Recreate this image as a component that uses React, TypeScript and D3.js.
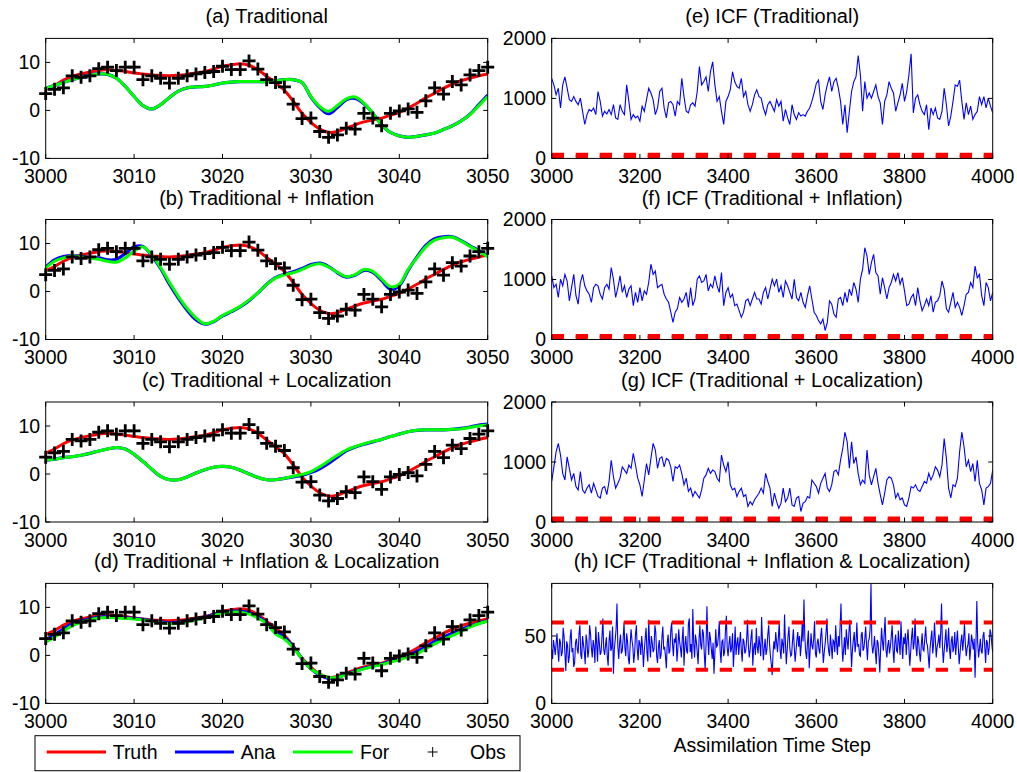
import React from 'react'
import * as d3 from 'd3'

const W = 1017
const H = 772
const FONT = '"Liberation Sans", Arial, Helvetica, sans-serif'

// ---- left column: one state variable, steps 3000..3050
const leftSteps = d3.range(3000, 3051)
const obs = [3.5, 4.4, 4.7, 7.2, 6.9, 7.2, 8.7, 9.0, 8.3, 9.0,
  9.0, 6.4, 7.2, 6.7, 5.7, 6.7, 7.2, 7.6, 7.9, 8.1,
  9.2, 8.5, 8.5, 10.3, 8.6, 6.4, 5.8, 4.9, 1.3, -1.7,
  -1.6, -4.4, -5.6, -5.1, -3.7, -3.9, -0.6, -1.6, -3.2, -0.6,
  -0.1, 0.3, -0.4, 2.0, 4.7, 3.4, 6.0, 5.3, 7.4, 8.3, 9.0]
const truth = [4.3, 5.2, 6.3, 7.1, 7.6, 8.0, 8.3, 8.5, 8.3, 8.1,
  7.8, 7.6, 7.4, 7.3, 7.2, 7.3, 7.5, 7.8, 8.1, 8.6,
  9.2, 9.5, 9.7, 9.4, 8.5, 7.1, 5.7, 4.2, 1.9, -0.6,
  -2.5, -3.9, -4.6, -4.4, -3.7, -3.0, -2.4, -2.0, -1.6, -1.0,
  -0.4, 0.5, 1.5, 2.6, 3.6, 4.6, 5.5, 6.2, 6.7, 7.2, 7.6]

const forA = [4.6, 5.2, 5.8, 6.4, 6.9, 7.3, 7.6, 7.5, 6.7, 5.0,
  2.9, 1.0, 0.3, 1.2, 2.7, 4.0, 4.7, 4.9, 5.0, 5.3,
  5.7, 5.9, 6.0, 6.0, 6.0, 6.0, 6.2, 6.4, 6.4, 5.8,
  2.9, 0.8, -0.2, 1.0, 2.4, 2.8, 1.5, -0.6, -3.0, -4.6,
  -5.3, -5.6, -5.4, -5.1, -4.7, -4.0, -3.2, -2.2, -0.9, 1.0, 2.9]
const anaA = [4.6, 5.2, 5.8, 6.4, 6.9, 7.3, 7.6, 7.5, 6.7, 5.0,
  2.9, 1.0, 0.3, 1.2, 2.7, 4.0, 4.7, 4.9, 5.0, 5.3,
  5.7, 5.9, 6.0, 6.0, 6.0, 6.0, 6.2, 6.4, 6.4, 5.8,
  2.8, 0.6, -0.7, 0.6, 2.2, 2.5, 1.4, -0.6, -3.0, -4.6,
  -5.3, -5.6, -5.4, -5.1, -4.7, -4.0, -3.2, -2.2, -0.8, 1.2, 3.2]

const forB = [4.9, 6.3, 7.0, 7.4, 7.2, 7.0, 6.7, 6.3, 6.1, 7.0,
  8.4, 9.3, 7.6, 5.0, 1.9, -1.0, -3.5, -5.5, -6.7, -6.2,
  -5.0, -4.1, -3.1, -1.8, -0.3, 1.5, 2.8, 3.5, 3.9, 4.6,
  5.4, 5.8, 5.1, 4.0, 3.1, 3.5, 4.6, 4.2, 2.6, 1.0,
  1.5, 4.6, 7.0, 9.3, 10.7, 11.2, 11.3, 10.5, 9.4, 8.4, 7.2]
const anaB = [5.1, 6.6, 7.3, 7.5, 7.3, 7.1, 7.0, 6.6, 6.7, 7.9,
  9.3, 9.4, 7.4, 4.8, 1.5, -1.4, -3.9, -5.9, -6.8, -6.3,
  -5.1, -4.2, -3.2, -1.9, -0.3, 1.5, 2.9, 3.6, 4.1, 4.8,
  5.6, 5.9, 5.2, 3.9, 3.0, 3.4, 4.4, 4.0, 2.3, 0.5,
  1.2, 4.4, 7.2, 9.6, 11.0, 11.4, 11.4, 10.6, 9.5, 8.5, 7.3]

const forC = [2.9, 3.1, 3.4, 3.6, 3.9, 4.3, 4.8, 5.2, 5.5, 5.2,
  4.1, 2.6, 1.0, -0.5, -1.2, -1.2, -0.6, 0.2, 0.9, 1.4,
  1.6, 1.4, 0.8, 0.0, -0.7, -1.2, -1.2, -0.9, -0.5, -0.1,
  0.5, 1.5, 2.7, 3.9, 5.0, 5.7, 6.3, 6.8, 7.2, 7.8,
  8.3, 8.8, 9.1, 9.2, 9.2, 9.2, 9.3, 9.4, 9.7, 10.0, 10.2]
const anaC = [2.9, 3.1, 3.4, 3.6, 3.9, 4.3, 4.8, 5.2, 5.5, 5.2,
  4.1, 2.6, 1.0, -0.5, -1.2, -1.2, -0.6, 0.2, 0.9, 1.4,
  1.6, 1.4, 0.8, 0.0, -0.7, -1.2, -1.2, -0.9, -0.6, -0.3,
  0.3, 1.1, 2.2, 3.5, 4.8, 5.6, 6.2, 6.7, 7.2, 7.8,
  8.3, 8.8, 9.1, 9.2, 9.2, 9.2, 9.3, 9.5, 9.8, 10.2, 10.4]

const forD = [2.8, 3.8, 5.0, 6.2, 6.9, 7.4, 7.8, 7.9, 7.8, 7.7,
  7.6, 7.4, 7.1, 6.8, 6.6, 6.7, 7.0, 7.4, 7.8, 8.3,
  8.8, 9.0, 9.0, 8.6, 7.8, 6.6, 4.5, 3.4, 1.6, -0.7,
  -2.8, -3.9, -4.6, -4.6, -4.0, -3.4, -2.8, -2.3, -1.9, -1.4,
  -0.9, -0.3, 0.3, 1.4, 2.4, 3.3, 4.1, 5.0, 5.9, 6.6, 7.1]
const anaD = [3.3, 4.3, 5.5, 6.6, 7.2, 7.6, 8.0, 8.1, 8.0, 7.8,
  7.7, 7.5, 7.2, 7.0, 6.8, 6.9, 7.2, 7.6, 8.0, 8.5,
  9.0, 9.2, 9.2, 8.9, 8.1, 6.8, 5.0, 3.8, 1.8, -0.7,
  -2.8, -4.1, -4.8, -4.6, -3.9, -3.3, -2.7, -2.2, -1.8, -1.2,
  -0.7, 0.0, 0.8, 1.8, 2.9, 3.8, 4.6, 5.4, 6.1, 6.7, 7.2]

const leftTitles = ['(a) Traditional', '(b) Traditional + Inflation',
  '(c) Traditional + Localization', '(d) Traditional + Inflation & Localization']
const leftXTicks = [3000, 3010, 3020, 3030, 3040, 3050]
const leftYTicks = [-10, 0, 10]

// ---- right column: ICF, steps 3000..4000
const icfSteps = d3.range(3000, 4001, 5)
const icfE = [1335, 1225, 1060, 1170, 840, 1225, 1360, 1170, 980, 950, 1030, 950, 895, 1005, 785, 565, 730, 815, 785, 840,
  730, 1115, 950, 705, 785, 740, 815, 730, 895, 675, 650, 895, 785, 730, 1225, 950, 650, 730, 675, 705,
  620, 870, 785, 980, 1170, 1090, 980, 730, 840, 1115, 1170, 840, 675, 925, 950, 895, 705, 950, 895, 1335,
  1030, 785, 760, 895, 925, 870, 1115, 1530, 1225, 1280, 1360, 1115, 1445, 1610, 1225, 950, 1030, 785, 565, 950,
  1030, 1145, 1445, 1280, 1200, 1170, 1335, 1030, 1115, 895, 785, 895, 1060, 1145, 1030, 1005, 840, 730, 895, 950,
  870, 785, 980, 870, 950, 620, 815, 675, 565, 895, 730, 650, 760, 705, 730, 705, 785, 840, 950, 1090,
  1250, 1305, 950, 815, 1060, 1225, 1360, 1115, 1280, 1335, 1170, 950, 565, 895, 430, 785, 1115, 1280, 1360, 1715,
  1390, 785, 1280, 1005, 1090, 1005, 1115, 1225, 1030, 925, 565, 950, 1060, 1280, 1170, 1090, 785, 925, 1060, 1250,
  950, 1115, 1390, 1745, 760, 1005, 1060, 895, 785, 730, 895, 480, 840, 730, 840, 675, 650, 785, 1170, 895,
  540, 705, 950, 1225, 1200, 1305, 950, 650, 925, 730, 870, 650, 730, 785, 1030, 895, 1030, 840, 1005, 870,
  760]
const icfF = [1060, 865, 920, 700, 1005, 895, 1085, 975, 645, 865, 1085, 730, 590, 950, 1085, 895, 810, 755, 620, 865,
  920, 895, 755, 675, 865, 920, 840, 1200, 1005, 700, 865, 1060, 785, 895, 700, 840, 895, 565, 785, 620,
  865, 645, 810, 755, 950, 1255, 1085, 1140, 865, 895, 920, 755, 675, 620, 455, 285, 455, 510, 700, 620,
  675, 785, 535, 865, 565, 675, 1005, 1060, 950, 975, 1085, 810, 920, 865, 1060, 895, 785, 1115, 565, 785,
  865, 700, 755, 565, 590, 480, 370, 455, 645, 675, 565, 675, 785, 675, 675, 590, 785, 865, 675, 840,
  1005, 895, 1005, 785, 895, 700, 975, 895, 785, 675, 1005, 700, 645, 785, 620, 535, 730, 895, 675, 455,
  400, 315, 260, 340, 150, 285, 645, 590, 425, 370, 675, 700, 565, 785, 620, 840, 730, 950, 840, 620,
  1005, 1170, 1530, 1390, 1085, 1280, 1420, 1115, 1060, 755, 1030, 865, 675, 865, 950, 1085, 975, 1115, 920, 1030,
  810, 565, 590, 700, 755, 565, 865, 645, 480, 565, 675, 565, 730, 455, 620, 645, 730, 975, 840, 510,
  455, 620, 785, 535, 620, 535, 400, 565, 755, 785, 950, 865, 1225, 1030, 1085, 730, 565, 950, 865, 645,
  785]
const icfG = [675, 920, 1170, 1310, 1115, 810, 700, 1085, 895, 700, 810, 590, 535, 840, 535, 480, 565, 620, 480, 645,
  535, 425, 400, 565, 590, 455, 675, 1030, 755, 565, 645, 730, 920, 865, 810, 950, 895, 1145, 950, 730,
  620, 425, 700, 975, 785, 1060, 1310, 1200, 895, 1060, 1085, 920, 1060, 1030, 920, 675, 920, 895, 950, 810,
  620, 730, 510, 565, 425, 510, 455, 400, 535, 730, 785, 895, 810, 865, 840, 730, 675, 1115, 950, 840,
  1005, 620, 535, 565, 425, 510, 565, 425, 455, 260, 340, 285, 370, 425, 480, 565, 480, 810, 675, 565,
  260, 480, 340, 230, 315, 565, 340, 400, 565, 285, 260, 400, 425, 175, 315, 340, 425, 400, 700, 645,
  590, 480, 645, 730, 810, 565, 510, 620, 840, 865, 785, 1030, 1225, 1500, 1335, 895, 1335, 975, 1085, 810,
  620, 700, 645, 1200, 785, 620, 755, 895, 645, 455, 285, 480, 700, 755, 730, 620, 400, 480, 370, 400,
  285, 260, 400, 590, 565, 620, 535, 510, 590, 675, 645, 810, 700, 785, 920, 865, 755, 950, 1390, 1060,
  565, 400, 620, 590, 730, 1170, 1500, 1255, 920, 1030, 840, 975, 675, 1030, 645, 535, 285, 565, 590, 645,
  865]
const icfHSteps = d3.range(3000, 4001, 2)
const icfH = [40, 33, 47, 42, 36, 44, 52, 39, 31, 48, 45, 35, 38, 56, 50, 37, 24, 46, 43, 30,
  35, 49, 55, 38, 41, 27, 30, 45, 48, 40, 37, 52, 58, 36, 33, 50, 44, 38, 29, 51,
  46, 34, 39, 58, 52, 41, 34, 47, 42, 30, 57, 44, 31, 53, 45, 36, 38, 49, 63, 40,
  36, 43, 49, 35, 28, 46, 54, 39, 41, 57, 22, 40, 47, 55, 74, 42, 33, 45, 51, 37,
  39, 48, 60, 41, 35, 52, 46, 33, 29, 44, 55, 47, 42, 30, 37, 51, 58, 40, 32, 47,
  44, 36, 50, 42, 27, 39, 48, 56, 38, 31, 62, 44, 34, 50, 45, 38, 40, 58, 53, 35,
  30, 42, 47, 33, 36, 49, 57, 40, 42, 35, 26, 45, 51, 37, 39, 54, 60, 44, 35, 48,
  45, 52, 31, 40, 55, 46, 41, 34, 48, 57, 28, 43, 50, 39, 37, 59, 63, 38, 44, 33,
  70, 45, 34, 51, 46, 38, 29, 47, 58, 43, 40, 55, 52, 37, 25, 44, 72, 48, 36, 53,
  48, 40, 33, 45, 22, 37, 55, 42, 43, 50, 61, 39, 30, 46, 47, 35, 38, 54, 65, 41,
  35, 44, 50, 38, 41, 52, 27, 40, 57, 36, 44, 49, 36, 45, 53, 39, 31, 48, 46, 37,
  39, 47, 62, 43, 34, 40, 49, 55, 28, 41, 45, 36, 56, 42, 37, 50, 43, 35, 64, 46,
  32, 41, 48, 36, 40, 51, 58, 44, 35, 29, 21, 38, 46, 40, 53, 45, 38, 49, 60, 39,
  33, 48, 44, 37, 66, 45, 29, 40, 50, 57, 41, 35, 36, 46, 55, 42, 31, 39, 47, 53,
  42, 50, 35, 44, 59, 46, 77, 49, 38, 33, 45, 54, 26, 39, 52, 43, 40, 48, 61, 37,
  34, 45, 48, 40, 37, 50, 56, 42, 30, 38, 44, 52, 63, 46, 39, 35, 51, 43, 33, 47,
  46, 38, 58, 44, 36, 50, 42, 57, 74, 45, 31, 40, 49, 36, 55, 47, 40, 53, 62, 44,
  27, 40, 47, 53, 38, 45, 60, 42, 44, 36, 35, 51, 53, 39, 41, 48, 57, 43, 32, 46,
  48, 55, 89, 44, 37, 42, 50, 38, 29, 47, 45, 36, 23, 41, 56, 46, 39, 52, 64, 40,
  34, 43, 47, 37, 42, 50, 58, 40, 30, 45, 51, 39, 38, 54, 45, 36, 61, 44, 33, 49,
  44, 52, 36, 47, 55, 41, 28, 38, 49, 56, 40, 45, 63, 42, 35, 50, 46, 37, 31, 43,
  52, 40, 39, 48, 57, 45, 43, 35, 26, 41, 48, 54, 37, 44, 60, 47, 34, 42, 45, 51,
  41, 52, 74, 43, 30, 39, 47, 55, 38, 44, 56, 40, 33, 46, 50, 38, 42, 53, 36, 45,
  54, 42, 29, 37, 46, 51, 39, 47, 59, 44, 35, 41, 44, 52, 32, 40, 51, 46, 40, 48,
  19, 43, 76, 45, 34, 41, 48, 39, 37, 50, 53, 42, 30, 47, 45, 36, 41, 55, 52, 44, 38]
const icfBounds = [25, 60]

const rightTitles = ['(e) ICF (Traditional)', '(f) ICF (Traditional + Inflation)',
  '(g) ICF (Traditional + Localization)', '(h) ICF (Traditional + Inflation & Localization)']
const rightXTicks = [3000, 3200, 3400, 3600, 3800, 4000]
const icfYTicks = [0, 1000, 2000]
const icfHYTicks = [0, 50]

const legendLabels = ['Truth', 'Ana', 'For', 'Obs']
const seriesColors = { truth: '#ff0000', ana: '#0000ff', for: '#00ff00', obs: '#000000' }

// ---- layout
const leftX: [number, number] = [45.7, 487.7]
const rightX: [number, number] = [551.7, 992.7]
const rowTop = [38.4, 219.5, 402, 583.4]
const rowH = 120
const TICK = 4.5

type Scale = d3.ScaleLinear<number, number>

function Frame({ x, y, xTicks, yTicks, title }: {
  x: Scale, y: Scale, xTicks: number[], yTicks: number[], title: string
}) {
  const [x0, x1] = x.range()
  const [y1, y0] = y.range()
  return (
    <g>
      <rect x={x0} y={y0} width={x1 - x0} height={y1 - y0} fill="none" stroke="#000" strokeWidth={1} />
      {xTicks.map(t => (
        <g key={'x' + t}>
          <line x1={x(t)} x2={x(t)} y1={y1} y2={y1 - TICK} stroke="#000" />
          <line x1={x(t)} x2={x(t)} y1={y0} y2={y0 + TICK} stroke="#000" />
          <text x={x(t)} y={y1 + 24.5} textAnchor="middle" fontSize={19.5}>{t}</text>
        </g>
      ))}
      {yTicks.map(t => (
        <g key={'y' + t}>
          <line x1={x0} x2={x0 + TICK} y1={y(t)} y2={y(t)} stroke="#000" />
          <line x1={x1} x2={x1 - TICK} y1={y(t)} y2={y(t)} stroke="#000" />
          <text x={x0 - 5.5} y={y(t)} dy="0.35em" textAnchor="end" fontSize={19.5}>{t}</text>
        </g>
      ))}
      <text x={(x0 + x1) / 2} y={y0 - 15} textAnchor="middle" fontSize={20}>{title}</text>
    </g>
  )
}

const plus = 'M-6.5,0H6.5M0,-6.5V6.5'

function StatePanel({ row, ana, fore }: { row: number, ana: number[], fore: number[] }) {
  const top = rowTop[row]
  const x = d3.scaleLinear().domain([3000, 3050]).range(leftX)
  const y = d3.scaleLinear().domain([-10, 15]).range([top + rowH, top])
  const line = d3.line<number>()
    .x((_, i) => x(leftSteps[i]))
    .y(d => y(d))
    .curve(d3.curveCatmullRom.alpha(0.5))
  const clip = 'clipL' + row
  return (
    <g>
      <clipPath id={clip}><rect x={leftX[0]} y={top} width={leftX[1] - leftX[0]} height={rowH} /></clipPath>
      <g clipPath={`url(#${clip})`}>
        <path d={line(truth) ?? ''} fill="none" stroke={seriesColors.truth} strokeWidth={3} />
        <path d={line(ana) ?? ''} fill="none" stroke={seriesColors.ana} strokeWidth={3.2} />
        <path d={line(fore) ?? ''} fill="none" stroke={seriesColors.for} strokeWidth={3} />
      </g>
      {obs.map((v, i) => (
        <path key={i} d={plus} transform={`translate(${x(leftSteps[i])},${y(v)})`}
          stroke={seriesColors.obs} strokeWidth={2.8} fill="none" />
      ))}
      <Frame x={x} y={y} xTicks={leftXTicks} yTicks={leftYTicks} title={leftTitles[row]} />
    </g>
  )
}

function IcfPanel({ row, steps, values, yMax, yTicks }: {
  row: number, steps: number[], values: number[], yMax: number, yTicks: number[]
}) {
  const top = rowTop[row]
  const x = d3.scaleLinear().domain([3000, 4000]).range(rightX)
  const y = d3.scaleLinear().domain([0, yMax]).range([top + rowH, top])
  const line = d3.line<number>().x((_, i) => x(steps[i])).y(d => y(d))
  const bound = d3.line<number>().x(d => x(d)).y(0)
  const clip = 'clipR' + row
  return (
    <g>
      <clipPath id={clip}><rect x={rightX[0]} y={top} width={rightX[1] - rightX[0]} height={rowH} /></clipPath>
      <g clipPath={`url(#${clip})`}>
        <path d={line(values) ?? ''} fill="none" stroke="#0000ff" strokeWidth={1.1} />
        {icfBounds.map(b => (
          <path key={b} d={bound([3000, 4000]) ?? ''} transform={`translate(0,${y(b)})`}
            fill="none" stroke="#ff0000" strokeWidth={4} strokeDasharray="12.3 11.7" />
        ))}
      </g>
      <Frame x={x} y={y} xTicks={rightXTicks} yTicks={yTicks} title={rightTitles[row]} />
    </g>
  )
}

function Legend() {
  const lineX = [[46.7, 106], [175, 234], [293, 352.7]]
  const textX = [112.7, 240.7, 360, 470]
  const cy = 752
  const colors = [seriesColors.truth, seriesColors.ana, seriesColors.for]
  return (
    <g>
      <rect x={35} y={735.7} width={485} height={35} fill="#fff" stroke="#000" strokeWidth={1} />
      {lineX.map(([a, b], i) => (
        <line key={i} x1={a} x2={b} y1={cy} y2={cy} stroke={colors[i]} strokeWidth={3} />
      ))}
      <path d="M-5,0H5M0,-5V5" transform={`translate(432.7,${cy})`} stroke="#000" strokeWidth={1} />
      {legendLabels.map((l, i) => (
        <text key={l} x={textX[i]} y={759} fontSize={19.5}>{l}</text>
      ))}
    </g>
  )
}

export default function App() {
  const anas = [anaA, anaB, anaC, anaD]
  const fors = [forA, forB, forC, forD]
  const icfs = [icfE, icfF, icfG]
  return (
    <svg width={W} height={H} style={{ position: 'absolute', left: 0, top: 0, background: '#fff' }}
      fontFamily={FONT} fill="#000">
      <rect width={W} height={H} fill="#fff" />
      {anas.map((a, i) => <StatePanel key={'s' + i} row={i} ana={a} fore={fors[i]} />)}
      {icfs.map((v, i) => (
        <IcfPanel key={'i' + i} row={i} steps={icfSteps} values={v} yMax={2000} yTicks={icfYTicks} />
      ))}
      <IcfPanel row={3} steps={icfHSteps} values={icfH} yMax={89} yTicks={icfHYTicks} />
      <text x={(rightX[0] + rightX[1]) / 2} y={752} textAnchor="middle" fontSize={19.5}>Assimilation Time Step</text>
      <Legend />
    </svg>
  )
}
